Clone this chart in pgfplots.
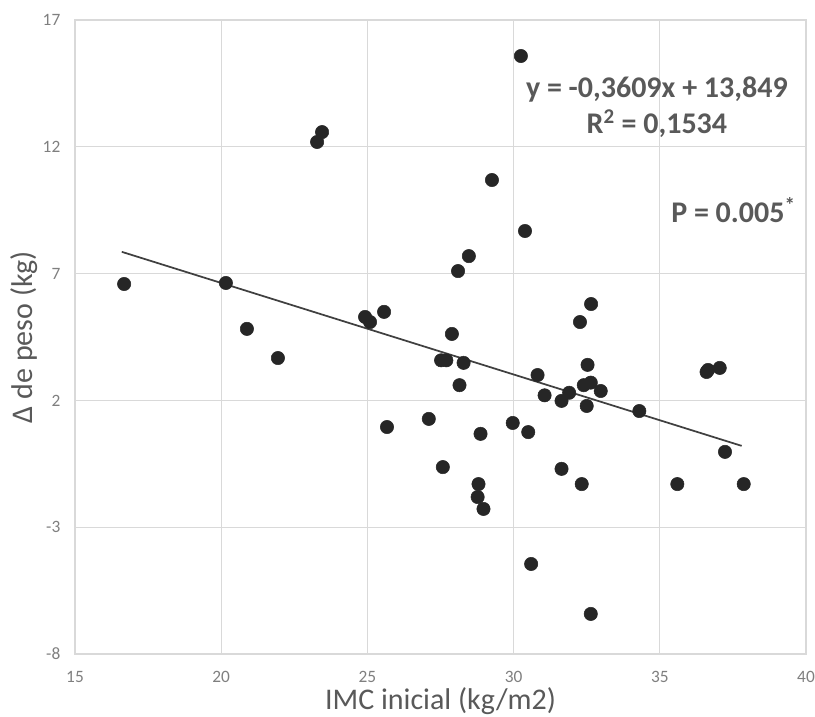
\documentclass[border=0pt]{standalone}
\usepackage{pgfplots}
\pgfplotsset{compat=1.18}
\usepackage{fontspec}
\setmainfont{Carlito}
\definecolor{gridgray}{HTML}{D9D9D9}
\definecolor{tickgray}{HTML}{7F7F7F}
\definecolor{labelgray}{HTML}{595959}
\definecolor{dotcol}{HTML}{262626}
\definecolor{linecol}{HTML}{404040}
\begin{document}
\begin{tikzpicture}
\useasboundingbox (-56.25pt,-47.25pt) rectangle (555pt,490.5pt);
\begin{axis}[
  at={(0,0)}, anchor=south west,
  scale only axis,
  width=548.25pt, height=475.5pt,
  xmin=15, xmax=40, ymin=-8, ymax=17,
  xtick={15,20,...,40}, ytick={-8,-3,...,17},
  major tick length=0pt,
  grid=major,
  grid style={draw=gridgray, line width=0.9pt},
  axis line style={draw=gridgray, line width=0.9pt},
  /pgf/number format/assume math mode=true,
  ticklabel style={font=\fontsize{13}{15}\selectfont, text=tickgray},
  xticklabel style={yshift=-9.5pt},
  yticklabel style={xshift=-7.5pt},
  xlabel={IMC inicial (kg/m2)},
  ylabel={Δ de peso (kg)},
  label style={font=\fontsize{22.5}{27}\selectfont, text=labelgray},
  xlabel style={at={(axis description cs:0.5,0)}, anchor=base, yshift=-41.5pt},
  ylabel style={at={(axis description cs:-0.07,0.5)}, anchor=center},
]
\addplot[only marks, mark=*, mark size=5pt, mark options={fill=dotcol, draw=dotcol}] coordinates {
(16.68,6.59) (20.16,6.63) (20.88,4.82) (21.94,3.67) (23.28,12.19) (23.45,12.58)
(24.92,5.29) (25.09,5.09) (25.57,5.49) (25.67,0.95) (27.10,1.27) (27.58,-0.63)
(27.52,3.58) (27.70,3.58) (27.89,4.62) (28.10,7.10) (28.15,2.60) (28.29,3.48)
(28.47,7.69) (28.80,-1.30) (28.77,-1.81) (28.97,-2.28) (28.87,0.68) (29.26,10.69)
(29.97,1.11) (30.25,15.58) (30.39,8.68) (30.50,0.75) (30.60,-4.45) (30.82,3.00)
(31.06,2.20) (31.64,-0.70) (31.64,1.98) (31.90,2.30) (32.27,5.09) (32.33,-1.30)
(32.40,2.60) (32.50,1.78) (32.53,3.40) (32.64,2.70) (32.64,-6.42) (32.65,5.80)
(32.98,2.37) (34.30,1.58) (35.60,-1.30) (36.60,3.12) (36.65,3.20) (37.05,3.28)
(37.23,-0.03) (37.87,-1.30)
};
\addplot[linecol, line width=1.3pt] coordinates {(16.6,7.858) (37.8,0.207)};
\node[anchor=base, font=\bfseries\fontsize{22.5}{26}\selectfont, text=labelgray] at (axis cs:34.9,13.96) {y = -0,3609x + 13,849};
\node[anchor=base, font=\bfseries\fontsize{22.5}{26}\selectfont, text=labelgray] at (axis cs:34.9,12.54) {R\textsuperscript{2} = 0,1534};
\node[anchor=base, font=\bfseries\fontsize{22.5}{26}\selectfont, text=labelgray] at (axis cs:37.52,9.03) {P = 0.005\textsuperscript{*}};
\end{axis}
\end{tikzpicture}
\end{document}
